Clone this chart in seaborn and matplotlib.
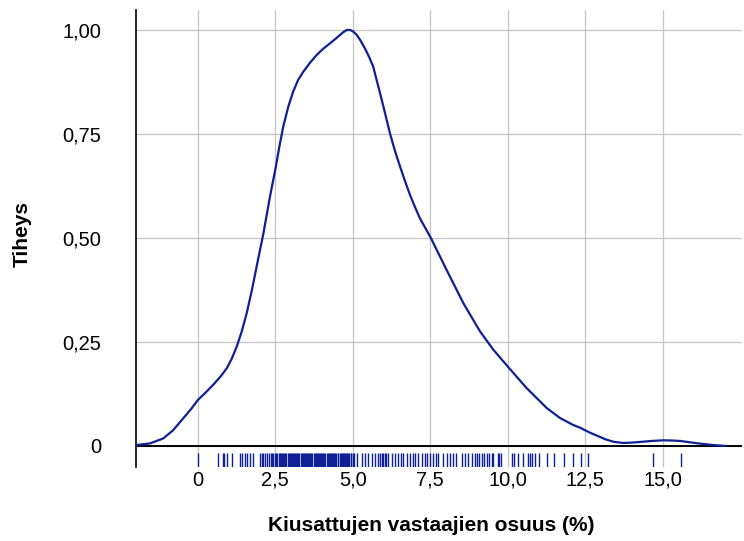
import matplotlib
matplotlib.use("Agg")
import matplotlib.pyplot as plt
import pandas as pd
import seaborn as sns

# Scaled density curve (max = 1)
curve_x = [-2.00, -1.54, -1.11, -0.79, -0.46, -0.20, 0.00, 0.25, 0.50, 0.75,
           0.94, 1.10, 1.26, 1.42, 1.58, 1.74, 1.90, 2.12, 2.33, 2.52,
           2.64, 2.76, 2.92, 3.08, 3.24, 3.41, 3.62, 3.84, 4.05, 4.27,
           4.45, 4.59, 4.70, 4.81, 4.92, 5.02, 5.13, 5.24, 5.40, 5.53,
           5.66, 5.82, 5.99, 6.20, 6.36, 6.53, 6.69, 6.85, 7.01, 7.17,
           7.35, 7.52, 8.03, 8.57, 9.11, 9.54, 10.00, 10.61, 11.26, 11.69,
           12.12, 12.33, 12.65, 12.87, 13.15, 13.41, 13.73, 14.00, 14.27, 14.65,
           15.02, 15.30, 15.56, 16.10, 16.63, 17.03]
curve_y = [0.002, 0.006, 0.018, 0.038, 0.067, 0.090, 0.110, 0.128, 0.147, 0.168,
           0.187, 0.210, 0.239, 0.275, 0.319, 0.372, 0.431, 0.511, 0.599, 0.671,
           0.722, 0.768, 0.815, 0.852, 0.880, 0.900, 0.921, 0.940, 0.955, 0.968,
           0.979, 0.988, 0.995, 1.000, 1.000, 0.996, 0.988, 0.976, 0.955, 0.935,
           0.912, 0.866, 0.816, 0.752, 0.710, 0.671, 0.636, 0.603, 0.574, 0.547,
           0.523, 0.500, 0.423, 0.343, 0.275, 0.231, 0.191, 0.139, 0.091, 0.067,
           0.050, 0.044, 0.032, 0.025, 0.016, 0.010, 0.007, 0.008, 0.0095, 0.012,
           0.0135, 0.013, 0.012, 0.0065, 0.002, 0.0]

# Observed shares (%) shown as rug marks
rug_values = [
    0.00, 0.64, 0.81, 0.86, 0.96, 1.10, 1.36, 1.43, 1.53, 1.58, 1.69, 1.79,
    2.01, 2.06, 2.12, 2.17, 2.25, 2.31, 2.35, 2.39, 2.44, 2.49, 2.53, 2.57,
    2.61, 2.65, 2.68, 2.72, 2.76, 2.79, 2.83, 2.86, 2.90, 2.93, 2.97, 3.00,
    3.04, 3.07, 3.11, 3.14, 3.18, 3.21, 3.25, 3.28, 3.32, 3.35, 3.39, 3.42,
    3.46, 3.49, 3.53, 3.56, 3.60, 3.63, 3.67, 3.70, 3.74, 3.77, 3.81, 3.84,
    3.88, 3.91, 3.95, 3.98, 4.02, 4.05, 4.09, 4.12, 4.16, 4.19, 4.23, 4.26,
    4.30, 4.33, 4.37, 4.40, 4.44, 4.47, 4.51, 4.54, 4.58, 4.61, 4.65, 4.68,
    4.72, 4.75, 4.79, 4.82, 4.86, 4.89, 4.93, 4.96, 5.00, 5.04,
    5.13, 5.29, 5.40, 5.50, 5.63, 5.72, 5.83, 5.88, 5.93, 5.98, 6.03, 6.08,
    6.15, 6.26, 6.36, 6.47, 6.55, 6.63, 6.74, 6.85, 6.95, 7.01, 7.10, 7.23,
    7.33, 7.39, 7.49, 7.60, 7.69, 7.76, 7.92, 8.03, 8.14, 8.25, 8.33, 8.52,
    8.62, 8.73, 8.84, 8.95, 9.00, 9.07, 9.16, 9.25, 9.32, 9.41, 9.48, 9.54,
    9.68, 9.72, 9.78, 10.13, 10.21, 10.34, 10.50, 10.65, 10.72, 10.79, 10.88,
    11.01, 11.26, 11.50, 11.83, 12.12, 12.35, 12.60, 14.70, 15.59,
]

x_ticks = [0, 2.5, 5.0, 7.5, 10.0, 12.5, 15.0]
x_tick_labels = ["0", "2,5", "5,0", "7,5", "10,0", "12,5", "15,0"]
y_ticks = [0, 0.25, 0.5, 0.75, 1.0]
y_tick_labels = ["0", "0,25", "0,50", "0,75", "1,00"]

line_color = "#0f1f96"

sns.set_style("white")
plt.rcParams["font.family"] = ["Liberation Sans", "DejaVu Sans"]

fig = plt.figure(figsize=(7.44, 5.41), dpi=100)
ax = fig.add_axes([0.1824, 0.1373, 0.8146, 0.8442])

curve = pd.DataFrame({"x": curve_x, "y": curve_y})
sns.lineplot(data=curve, x="x", y="y", ax=ax, color=line_color, lw=1.6, sort=False, zorder=3)
sns.rugplot(x=rug_values, ax=ax, height=0.03, color=line_color, lw=1.5,
            expand_margins=False, zorder=3)

ax.axhline(0, color="black", lw=1.4, zorder=2)

ax.set_xlim(-2.0, 17.55)
ax.set_ylim(-0.05, 1.048)
ax.set_xticks(x_ticks)
ax.set_xticklabels(x_tick_labels)
ax.set_yticks(y_ticks)
ax.set_yticklabels(y_tick_labels)
ax.grid(True, color="#c4c4c4", lw=0.9)
ax.set_axisbelow(True)

for side in ["top", "right", "bottom"]:
    ax.spines[side].set_visible(False)
ax.spines["left"].set_color("black")
ax.spines["left"].set_linewidth(1.2)

ax.tick_params(axis="both", length=0, labelsize=14.5, colors="black")
ax.tick_params(axis="y", pad=25)
ax.tick_params(axis="x", pad=3)

ax.set_xlabel("Kiusattujen vastaajien osuus (%)", fontsize=15, fontweight="bold", color="black")
ax.set_ylabel("Tiheys", fontsize=15, fontweight="bold", color="black")
ax.xaxis.set_label_coords(0.487, -0.128)
ax.xaxis.label.set_verticalalignment("center")
ax.yaxis.set_label_coords(-0.1875, 0.51)
ax.yaxis.label.set_verticalalignment("center")

plt.savefig("out.png", dpi=100)
plt.close()
